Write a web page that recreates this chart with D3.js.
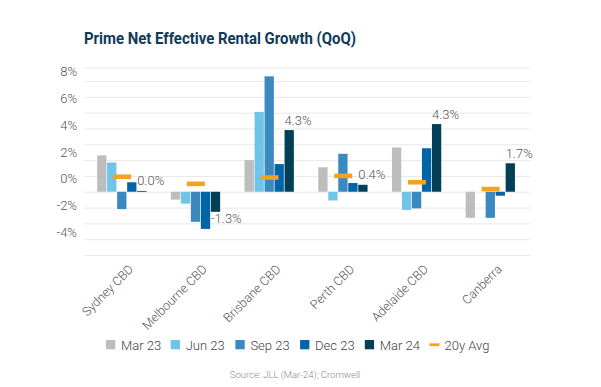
<!DOCTYPE html>
<html>
<head>
<meta charset="utf-8">
<script src="https://cdn.jsdelivr.net/npm/d3@7"></script>
<style>
  body { margin: 0; background: #fff; }
  text { font-family: Roboto, "Open Sans", sans-serif; }
</style>
</head>
<body>
<div id="chart"></div>
<script>
const width = 601;
const height = 387;

// values
const categories = ["Sydney CBD", "Melbourne CBD", "Brisbane CBD", "Perth CBD", "Adelaide CBD", "Canberra"];
const series = ["Mar 23", "Jun 23", "Sep 23", "Dec 23", "Mar 24"];
const mar23 = [2.3, -0.5, 2.0, 1.55, 2.8, -1.65];
const jun23 = [1.85, -0.75, 5.05, -0.55, -1.15, 0];
const sep23 = [-1.1, -1.9, 7.3, 2.4, -1.05, -1.65];
const dec23 = [0.6, -2.35, 1.75, 0.55, 2.75, -0.25];
const mar24 = [0.05, -1.27, 3.9, 0.44, 4.28, 1.8];
const avg20y = [0.95, 0.5, 0.9, 1.0, 0.6, 0.17];
const mar24Labels = ["0.0%", "-1.3%", "4.3%", "0.4%", "4.3%", "1.7%"];
const yTickLabels = [8, 6, 4, 2, 0, -2, -4];

const seriesValues = [mar23, jun23, sep23, dec23, mar24];
const colors = ["#bdbdbd", "#6fc5e9", "#3a8ac1", "#0064a8", "#043f58"];
const avgColor = "#f5a21f";

const svg = d3.select("#chart")
    .append("svg")
    .attr("width", width)
    .attr("height", height);

// title
svg.append("text")
    .attr("x", 84)
    .attr("y", 43.5)
    .attr("font-size", 16)
    .attr("font-weight", 700)
    .attr("fill", "#103a59")
    .attr("textLength", 272)
    .attr("lengthAdjust", "spacingAndGlyphs")
    .text("Prime Net Effective Rental Growth (QoQ)");

// scales
const x = d3.scaleBand()
    .domain(categories)
    .range([85.3, 527.5]);

const xs = d3.scaleBand()
    .domain(series)
    .range([-25, 25]);

const y = d3.scaleLinear()
    .domain([-4, 7.87])
    .range([255, 67.3]);

// the tick labels sit on their own spacing in the reference
const yLabel = d3.scaleLinear()
    .domain([-4, 8])
    .range([232.7, 71]);

// gridlines
svg.append("g")
    .attr("transform", "translate(84.3,0)")
    .call(d3.axisLeft(y)
        .tickValues([...d3.range(-4, 8), y.domain()[1]])
        .tickSize(-(530 - 84.3))
        .tickFormat(""))
    .call(g => g.select(".domain").remove())
    .call(g => g.selectAll("line").attr("stroke", "#e8e8e8"));

// y labels
svg.append("g")
    .attr("transform", "translate(77,0)")
    .call(d3.axisLeft(yLabel)
        .tickValues(yTickLabels)
        .tickSize(0)
        .tickPadding(0)
        .tickFormat(d => d + "%"))
    .call(g => g.select(".domain").remove())
    .call(g => g.selectAll("text")
        .attr("font-size", 13)
        .attr("font-weight", 300)
        .attr("fill", "#555")
        .attr("font-family", "Roboto"));

// bars
const groups = svg.append("g")
    .selectAll("g")
    .data(categories)
    .join("g")
    .attr("transform", d => `translate(${x(d) + x.bandwidth() / 2},0)`);

groups.selectAll("rect.bar")
    .data((d, i) => series.map((s, j) => ({ s, j, v: seriesValues[j][i] })))
    .join("rect")
    .attr("class", "bar")
    .attr("x", d => xs(d.s))
    .attr("width", xs.bandwidth() - 0.7)
    .attr("y", d => y(Math.max(0, d.v)))
    .attr("height", d => Math.abs(y(d.v) - y(0)))
    .attr("fill", d => colors[d.j]);

// 20y average markers
groups.append("rect")
    .attr("x", -9)
    .attr("width", 18)
    .attr("y", (d, i) => y(avg20y[i]) - 2.3)
    .attr("height", 4.6)
    .attr("fill", avgColor);

// Mar 24 labels
groups.append("text")
    .attr("x", xs("Mar 24"))
    .attr("y", (d, i) => mar24[i] >= 0 ? y(mar24[i]) - 10 : y(mar24[i]) + 6.5)
    .attr("dominant-baseline", "central")
    .attr("font-size", 13)
    .attr("font-weight", 300)
    .attr("fill", "#555")
    .text((d, i) => mar24Labels[i]);

// x labels
svg.append("g")
    .attr("transform", "translate(0,255)")
    .call(d3.axisBottom(x).tickSize(0))
    .call(g => g.select(".domain").remove())
    .call(g => g.selectAll("text")
        .attr("y", 0)
        .attr("dy", 0)
        .attr("transform", "translate(12,15) rotate(-45)")
        .attr("text-anchor", "end")
        .attr("font-size", 12.5)
        .attr("font-weight", 300)
        .attr("fill", "#555")
        .attr("font-family", "Roboto"));

// legend
const legendItems = [...series, "20y Avg"];
const lx = d3.scaleBand()
    .domain(legendItems)
    .range([106, 106 + 64.7 * legendItems.length]);

const legend = svg.append("g")
    .selectAll("g")
    .data(legendItems)
    .join("g")
    .attr("transform", d => `translate(${lx(d)},0)`);

legend.filter((d, i) => i < series.length)
    .append("rect")
    .attr("y", 340)
    .attr("width", 9.3)
    .attr("height", 9.3)
    .attr("fill", (d, i) => colors[i]);

legend.filter(d => d === "20y Avg")
    .append("rect")
    .attr("y", 343.3)
    .attr("width", 10)
    .attr("height", 2.8)
    .attr("fill", avgColor);

legend.append("text")
    .attr("x", 15)
    .attr("y", 349.5)
    .attr("font-size", 13)
    .attr("font-weight", 300)
    .attr("fill", "#444")
    .text(d => d);

// source
svg.append("text")
    .attr("x", 295)
    .attr("y", 377.5)
    .attr("text-anchor", "middle")
    .attr("font-size", 9.5)
    .attr("font-weight", 300)
    .attr("fill", "#8a8a8a")
    .text("Source: JLL (Mar-24); Cromwell");
</script>
</body>
</html>
